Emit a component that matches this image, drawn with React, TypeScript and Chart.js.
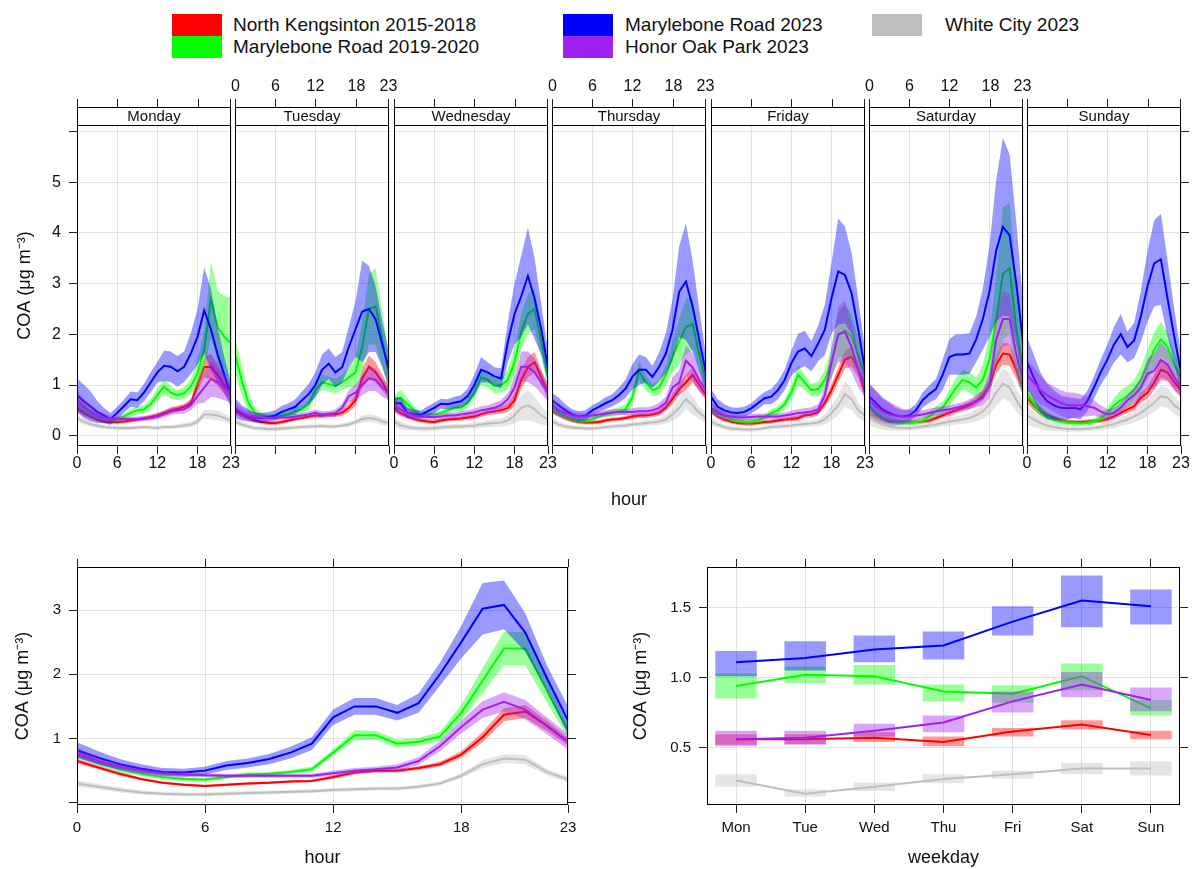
import React, { useEffect, useRef } from "react";
import { Chart, registerables } from "chart.js";

Chart.register(...registerables);

const FONT = '"Liberation Sans", Arial, Helvetica, sans-serif';
const TEXT = "#111111";
const GRID = "#e2e2e2";
const AXIS = "#222222";
const FRAME = "#000000";

// ---------- labels ----------
const seriesNames = [
  "North Kengsinton 2015-2018",
  "Marylebone Road 2019-2020",
  "Marylebone Road 2023",
  "Honor Oak Park 2023",
  "White City 2023",
];
const seriesColors = ["#FF0000", "#00FF00", "#0000FF", "#A020F0", "#BEBEBE"];
const bandColors = [
  "rgba(255,0,0,0.4)",
  "rgba(0,255,0,0.4)",
  "rgba(0,0,255,0.4)",
  "rgba(160,32,240,0.4)",
  "rgba(190,190,190,0.4)",
];
const dayNames = ["Monday", "Tuesday", "Wednesday", "Thursday", "Friday", "Saturday", "Sunday"];
const dayShort = ["Mon", "Tue", "Wed", "Thu", "Fri", "Sat", "Sun"];
const hours = [0, 1, 2, 3, 4, 5, 6, 7, 8, 9, 10, 11, 12, 13, 14, 15, 16, 17, 18, 19, 20, 21, 22, 23];
const hourTicks = [0, 6, 12, 18, 23];
const topYTicks = [0, 1, 2, 3, 4, 5, 6];
const hourYTicks = [0, 1, 2, 3];
const dayXTicks = [1, 2, 3, 4, 5, 6, 7];
const dayYTicks = [0.5, 1.0, 1.5];
const yTitle = "COA (\u03BCg m\u207B\u00B3)";

// ---------- top panel: hour of week (Mon..Sun, 24 h each) ----------
const nkWeekMean = [
  0.55,0.45,0.38,0.32,0.28,0.27,0.27,0.28,0.30,0.32,0.34,0.37,0.40,0.45,0.50,0.53,0.57,0.64,1.00,1.35,1.36,1.20,1.00,0.80,
  0.50,0.42,0.35,0.30,0.27,0.25,0.25,0.27,0.30,0.33,0.35,0.38,0.40,0.40,0.42,0.42,0.45,0.55,0.70,1.13,1.36,1.25,1.05,0.82,
  0.55,0.45,0.38,0.33,0.30,0.28,0.27,0.30,0.32,0.33,0.34,0.36,0.38,0.42,0.46,0.48,0.50,0.55,0.70,1.10,1.35,1.45,1.15,0.85,
  0.50,0.42,0.35,0.30,0.27,0.26,0.26,0.27,0.30,0.32,0.33,0.35,0.38,0.40,0.40,0.42,0.45,0.55,0.72,0.92,1.05,1.20,1.00,0.80,
  0.50,0.38,0.32,0.28,0.25,0.24,0.24,0.25,0.27,0.28,0.30,0.32,0.33,0.35,0.40,0.42,0.47,0.64,0.90,1.20,1.50,1.56,1.30,0.85,
  0.45,0.38,0.32,0.28,0.27,0.26,0.26,0.27,0.28,0.30,0.35,0.40,0.45,0.50,0.55,0.60,0.68,0.80,1.00,1.40,1.62,1.60,1.30,0.95,
  0.75,0.60,0.48,0.40,0.35,0.30,0.28,0.27,0.27,0.28,0.29,0.30,0.33,0.38,0.45,0.52,0.58,0.75,0.85,1.05,1.30,1.25,1.05,0.90,
];
const nkWeekCI = [
  0.07,0.06,0.05,0.04,0.04,0.04,0.04,0.04,0.04,0.04,0.04,0.05,0.05,0.05,0.06,0.06,0.06,0.08,0.12,0.20,0.25,0.22,0.18,0.14,
  0.07,0.06,0.05,0.04,0.04,0.04,0.04,0.04,0.04,0.04,0.04,0.05,0.05,0.05,0.05,0.05,0.06,0.08,0.12,0.18,0.22,0.20,0.16,0.12,
  0.07,0.06,0.05,0.04,0.04,0.04,0.04,0.04,0.04,0.04,0.04,0.05,0.05,0.05,0.05,0.06,0.06,0.08,0.12,0.18,0.20,0.20,0.15,0.12,
  0.06,0.05,0.05,0.04,0.04,0.04,0.04,0.04,0.04,0.04,0.04,0.04,0.05,0.05,0.05,0.05,0.06,0.07,0.10,0.12,0.15,0.15,0.12,0.10,
  0.06,0.05,0.05,0.04,0.04,0.04,0.04,0.04,0.04,0.04,0.04,0.04,0.05,0.05,0.05,0.06,0.06,0.08,0.12,0.15,0.18,0.20,0.15,0.12,
  0.07,0.06,0.05,0.04,0.04,0.04,0.04,0.04,0.04,0.05,0.05,0.05,0.06,0.06,0.07,0.08,0.08,0.10,0.12,0.18,0.22,0.22,0.18,0.14,
  0.12,0.10,0.08,0.06,0.05,0.05,0.04,0.04,0.04,0.04,0.04,0.05,0.05,0.06,0.06,0.07,0.08,0.10,0.12,0.15,0.20,0.18,0.15,0.12,
];
const mr1920WeekMean = [
  0.65,0.55,0.45,0.38,0.33,0.32,0.33,0.38,0.45,0.50,0.52,0.62,0.80,0.97,0.85,0.80,0.84,0.97,1.23,1.69,2.69,2.15,1.95,1.82,
  1.60,1.10,0.65,0.45,0.40,0.38,0.38,0.40,0.42,0.48,0.52,0.62,0.90,1.05,1.02,0.98,1.05,1.15,1.25,1.75,2.50,2.55,1.90,1.20,
  0.70,0.75,0.62,0.50,0.42,0.42,0.42,0.45,0.50,0.55,0.55,0.65,0.85,1.15,1.10,0.98,1.00,1.10,1.45,2.05,2.40,2.50,1.85,1.15,
  0.55,0.45,0.38,0.33,0.30,0.30,0.32,0.38,0.42,0.45,0.48,0.52,0.75,1.28,1.05,0.90,0.95,1.20,1.55,1.85,2.15,2.20,1.60,1.05,
  0.55,0.45,0.38,0.33,0.30,0.28,0.28,0.30,0.36,0.45,0.50,0.62,0.85,1.20,1.05,0.90,0.92,1.10,1.45,1.98,2.08,1.95,1.55,1.20,
  0.60,0.45,0.35,0.30,0.27,0.25,0.25,0.27,0.30,0.38,0.48,0.55,0.75,0.95,1.10,1.05,0.95,1.10,1.50,2.30,3.20,3.30,2.10,1.30,
  0.85,0.65,0.48,0.38,0.32,0.28,0.26,0.25,0.24,0.25,0.28,0.35,0.45,0.60,0.70,0.78,0.90,1.10,1.40,1.70,1.90,1.75,1.40,1.15,
];
const mr1920WeekCI = [
  0.12,0.10,0.08,0.06,0.05,0.05,0.05,0.06,0.07,0.08,0.08,0.10,0.12,0.15,0.12,0.10,0.12,0.15,0.25,0.40,0.75,0.70,0.80,0.90,
  0.35,0.30,0.20,0.10,0.06,0.05,0.05,0.05,0.06,0.07,0.08,0.10,0.12,0.15,0.15,0.15,0.15,0.20,0.30,0.50,0.70,0.75,0.55,0.35,
  0.10,0.15,0.12,0.08,0.06,0.05,0.05,0.05,0.06,0.07,0.08,0.10,0.12,0.15,0.15,0.15,0.15,0.20,0.30,0.35,0.40,0.40,0.30,0.20,
  0.10,0.08,0.06,0.05,0.05,0.05,0.05,0.05,0.06,0.07,0.08,0.10,0.15,0.20,0.15,0.12,0.15,0.20,0.30,0.45,0.55,0.50,0.35,0.20,
  0.10,0.08,0.06,0.05,0.05,0.05,0.05,0.05,0.06,0.07,0.08,0.10,0.15,0.20,0.15,0.12,0.15,0.20,0.30,0.45,0.50,0.45,0.35,0.25,
  0.20,0.15,0.10,0.08,0.06,0.05,0.05,0.05,0.06,0.08,0.10,0.12,0.15,0.20,0.20,0.20,0.20,0.30,0.50,0.90,1.30,1.30,0.90,0.50,
  0.15,0.12,0.10,0.08,0.06,0.05,0.05,0.05,0.05,0.05,0.06,0.08,0.10,0.15,0.20,0.20,0.20,0.25,0.30,0.35,0.35,0.30,0.25,0.20,
];
const mr23WeekMean = [
  0.80,0.68,0.58,0.47,0.40,0.33,0.45,0.58,0.72,0.70,0.85,1.05,1.25,1.38,1.36,1.27,1.36,1.62,1.95,2.47,2.10,1.60,1.20,0.80,
  0.55,0.45,0.40,0.36,0.35,0.37,0.40,0.47,0.52,0.57,0.70,0.82,1.00,1.30,1.42,1.25,1.35,1.75,2.10,2.45,2.50,2.30,1.80,1.30,
  0.64,0.64,0.45,0.43,0.41,0.48,0.55,0.63,0.62,0.65,0.68,0.78,1.00,1.30,1.25,1.17,1.13,1.85,2.40,2.75,3.15,2.70,2.10,1.35,
  0.70,0.60,0.50,0.42,0.38,0.40,0.50,0.57,0.64,0.70,0.80,0.93,1.16,1.30,1.30,1.16,1.36,1.62,2.09,2.84,3.04,2.55,1.89,1.23,
  0.77,0.57,0.50,0.46,0.45,0.47,0.54,0.64,0.74,0.77,0.90,1.10,1.43,1.66,1.72,1.57,1.82,2.09,2.71,3.24,3.17,2.81,2.09,1.30,
  0.78,0.65,0.52,0.45,0.40,0.38,0.40,0.50,0.70,0.82,0.92,1.20,1.55,1.60,1.60,1.62,1.90,2.30,2.85,3.65,4.12,3.95,3.00,1.85,
  1.45,1.15,0.85,0.68,0.60,0.55,0.54,0.55,0.52,0.68,0.95,1.25,1.50,1.80,2.00,1.75,1.88,2.35,2.95,3.40,3.48,2.70,1.95,1.25,
];
const mr23WeekCI = [
  0.33,0.33,0.30,0.22,0.15,0.12,0.12,0.13,0.15,0.15,0.17,0.20,0.20,0.30,0.30,0.30,0.30,0.40,0.55,0.85,0.80,0.55,0.35,0.25,
  0.20,0.15,0.12,0.10,0.10,0.10,0.10,0.12,0.12,0.15,0.17,0.20,0.25,0.30,0.30,0.30,0.30,0.40,0.55,1.00,0.85,0.65,0.45,0.35,
  0.12,0.12,0.10,0.08,0.08,0.10,0.10,0.10,0.10,0.12,0.12,0.15,0.20,0.25,0.20,0.18,0.20,0.40,0.60,0.80,0.95,0.80,0.50,0.30,
  0.15,0.15,0.12,0.10,0.10,0.10,0.10,0.10,0.12,0.12,0.15,0.18,0.25,0.30,0.25,0.22,0.28,0.40,0.60,0.90,1.15,0.90,0.60,0.35,
  0.15,0.15,0.12,0.10,0.10,0.10,0.10,0.12,0.12,0.15,0.18,0.20,0.25,0.35,0.35,0.30,0.35,0.50,0.70,1.05,0.95,0.80,0.60,0.40,
  0.25,0.25,0.22,0.20,0.15,0.12,0.12,0.12,0.15,0.17,0.20,0.30,0.35,0.40,0.40,0.40,0.45,0.60,0.90,1.40,1.75,1.60,1.20,0.80,
  0.50,0.45,0.40,0.35,0.30,0.25,0.22,0.20,0.20,0.20,0.22,0.25,0.30,0.35,0.40,0.30,0.35,0.50,0.70,0.85,0.90,0.75,0.55,0.35,
];
const hopWeekMean = [
  0.70,0.58,0.48,0.40,0.36,0.34,0.33,0.33,0.33,0.33,0.34,0.35,0.38,0.42,0.48,0.50,0.52,0.60,0.78,0.95,1.12,1.05,0.95,0.85,
  0.55,0.45,0.40,0.38,0.36,0.35,0.35,0.36,0.36,0.38,0.40,0.42,0.45,0.42,0.42,0.45,0.55,0.78,0.85,1.00,1.13,1.10,0.95,0.84,
  0.60,0.52,0.45,0.40,0.38,0.37,0.37,0.38,0.40,0.40,0.42,0.44,0.46,0.50,0.52,0.55,0.60,0.72,0.95,1.36,1.36,1.25,1.05,0.85,
  0.60,0.50,0.45,0.40,0.38,0.38,0.40,0.42,0.44,0.46,0.47,0.47,0.47,0.48,0.48,0.50,0.55,0.65,0.95,1.05,1.48,1.35,1.10,0.90,
  0.55,0.45,0.40,0.38,0.36,0.36,0.37,0.38,0.38,0.38,0.38,0.40,0.42,0.45,0.46,0.48,0.52,0.80,1.45,2.00,2.05,1.75,1.30,1.00,
  0.70,0.58,0.48,0.42,0.40,0.38,0.38,0.40,0.42,0.45,0.48,0.50,0.52,0.55,0.58,0.62,0.68,0.75,1.00,1.90,2.30,2.30,1.60,1.10,
  1.20,1.05,0.90,0.80,0.72,0.65,0.60,0.60,0.60,0.58,0.55,0.48,0.42,0.45,0.55,0.70,0.80,0.95,1.22,1.28,1.50,1.40,1.15,0.95,
];
const hopWeekCI = [
  0.20,0.15,0.12,0.10,0.08,0.06,0.05,0.05,0.05,0.05,0.05,0.05,0.06,0.06,0.07,0.07,0.08,0.10,0.15,0.30,0.35,0.30,0.25,0.20,
  0.12,0.10,0.08,0.07,0.06,0.05,0.05,0.05,0.05,0.05,0.05,0.06,0.06,0.06,0.06,0.07,0.08,0.12,0.15,0.20,0.25,0.22,0.18,0.15,
  0.15,0.12,0.10,0.08,0.07,0.06,0.06,0.06,0.06,0.06,0.06,0.06,0.07,0.08,0.08,0.10,0.10,0.12,0.20,0.30,0.30,0.28,0.22,0.18,
  0.15,0.12,0.10,0.08,0.07,0.06,0.06,0.06,0.06,0.06,0.06,0.06,0.07,0.08,0.08,0.08,0.10,0.12,0.20,0.25,0.30,0.28,0.22,0.18,
  0.12,0.10,0.08,0.07,0.06,0.06,0.06,0.06,0.06,0.06,0.06,0.06,0.07,0.07,0.08,0.08,0.10,0.15,0.30,0.55,0.60,0.50,0.35,0.25,
  0.30,0.30,0.28,0.25,0.20,0.15,0.12,0.10,0.08,0.08,0.08,0.08,0.08,0.08,0.08,0.10,0.12,0.15,0.25,0.45,0.55,0.50,0.40,0.30,
  0.30,0.30,0.28,0.25,0.25,0.25,0.25,0.25,0.22,0.20,0.15,0.12,0.10,0.10,0.10,0.12,0.15,0.20,0.30,0.35,0.35,0.30,0.25,0.20,
];
const wcWeekMean = [
  0.35,0.28,0.23,0.20,0.17,0.16,0.15,0.15,0.15,0.16,0.17,0.16,0.15,0.17,0.17,0.18,0.20,0.22,0.28,0.42,0.42,0.40,0.35,0.30,
  0.28,0.22,0.18,0.15,0.14,0.13,0.13,0.14,0.15,0.16,0.17,0.18,0.18,0.19,0.18,0.18,0.20,0.22,0.27,0.33,0.35,0.33,0.28,0.25,
  0.28,0.20,0.17,0.15,0.14,0.14,0.15,0.16,0.17,0.18,0.18,0.19,0.20,0.22,0.24,0.25,0.26,0.30,0.40,0.55,0.60,0.52,0.40,0.32,
  0.28,0.22,0.18,0.16,0.15,0.14,0.14,0.15,0.17,0.18,0.19,0.20,0.22,0.23,0.25,0.26,0.28,0.32,0.42,0.55,0.72,0.60,0.45,0.35,
  0.28,0.22,0.17,0.14,0.13,0.12,0.12,0.13,0.15,0.17,0.18,0.19,0.20,0.22,0.23,0.24,0.26,0.32,0.45,0.60,0.82,0.72,0.50,0.40,
  0.35,0.28,0.22,0.18,0.16,0.15,0.15,0.16,0.18,0.20,0.22,0.25,0.28,0.30,0.32,0.35,0.40,0.48,0.62,0.85,1.03,0.95,0.70,0.50,
  0.40,0.32,0.25,0.20,0.17,0.15,0.13,0.13,0.13,0.14,0.15,0.17,0.20,0.23,0.28,0.32,0.38,0.45,0.55,0.65,0.78,0.75,0.60,0.50,
];
const wcWeekCI = [
  0.08,0.06,0.05,0.05,0.04,0.04,0.04,0.04,0.04,0.04,0.04,0.04,0.04,0.04,0.04,0.04,0.05,0.05,0.06,0.08,0.10,0.10,0.08,0.08,
  0.07,0.05,0.05,0.04,0.04,0.04,0.04,0.04,0.04,0.04,0.04,0.04,0.04,0.04,0.04,0.04,0.04,0.05,0.05,0.07,0.08,0.08,0.07,0.06,
  0.10,0.08,0.06,0.05,0.05,0.05,0.05,0.05,0.05,0.05,0.05,0.05,0.06,0.06,0.07,0.08,0.08,0.10,0.15,0.25,0.30,0.25,0.18,0.12,
  0.08,0.06,0.05,0.05,0.04,0.04,0.04,0.04,0.04,0.04,0.05,0.05,0.05,0.05,0.06,0.06,0.07,0.08,0.12,0.18,0.20,0.18,0.12,0.10,
  0.08,0.06,0.05,0.05,0.04,0.04,0.04,0.04,0.04,0.04,0.05,0.05,0.05,0.05,0.06,0.06,0.07,0.10,0.15,0.20,0.25,0.22,0.15,0.12,
  0.15,0.12,0.10,0.08,0.06,0.05,0.05,0.05,0.05,0.06,0.06,0.07,0.08,0.08,0.09,0.10,0.12,0.15,0.20,0.25,0.30,0.28,0.22,0.18,
  0.18,0.15,0.12,0.10,0.08,0.06,0.05,0.05,0.05,0.05,0.05,0.06,0.07,0.08,0.09,0.10,0.12,0.14,0.16,0.18,0.20,0.20,0.18,0.15,
];

// ---------- bottom-left: hour of day ----------
const nkHourMean = [0.65,0.55,0.45,0.37,0.31,0.28,0.26,0.28,0.30,0.31,0.33,0.34,0.40,0.47,0.50,0.50,0.54,0.60,0.75,1.02,1.37,1.42,1.20,0.95];
const nkHourCI = [0.04,0.03,0.03,0.02,0.02,0.02,0.02,0.02,0.02,0.02,0.02,0.02,0.03,0.03,0.03,0.03,0.03,0.04,0.05,0.08,0.10,0.10,0.08,0.06];
const mr1920HourMean = [0.75,0.62,0.52,0.45,0.40,0.37,0.36,0.40,0.44,0.45,0.48,0.52,0.78,1.05,1.05,0.92,0.95,1.03,1.40,1.90,2.40,2.40,1.75,1.12];
const mr1920HourCI = [0.05,0.04,0.04,0.03,0.03,0.03,0.03,0.03,0.03,0.03,0.03,0.04,0.05,0.08,0.07,0.06,0.06,0.07,0.12,0.20,0.26,0.26,0.18,0.10];
const mr23HourMean = [0.82,0.70,0.60,0.53,0.48,0.47,0.50,0.58,0.62,0.68,0.78,0.92,1.33,1.50,1.50,1.40,1.55,2.00,2.50,3.02,3.08,2.65,1.95,1.28];
const mr23HourCI = [0.12,0.10,0.08,0.07,0.06,0.06,0.06,0.07,0.07,0.08,0.09,0.10,0.12,0.13,0.13,0.12,0.15,0.18,0.25,0.40,0.38,0.30,0.20,0.22];
const hopHourMean = [0.78,0.65,0.56,0.50,0.46,0.44,0.43,0.42,0.42,0.42,0.42,0.42,0.46,0.50,0.52,0.55,0.65,0.88,1.18,1.45,1.57,1.45,1.20,0.95];
const hopHourCI = [0.08,0.06,0.05,0.04,0.04,0.04,0.03,0.03,0.03,0.03,0.03,0.03,0.04,0.04,0.04,0.05,0.06,0.08,0.10,0.13,0.15,0.15,0.13,0.12];
const wcHourMean = [0.30,0.25,0.20,0.16,0.14,0.13,0.13,0.14,0.15,0.16,0.17,0.18,0.20,0.21,0.22,0.22,0.25,0.30,0.42,0.60,0.69,0.67,0.48,0.36];
const wcHourCI = [0.05,0.04,0.04,0.03,0.03,0.03,0.03,0.03,0.03,0.03,0.03,0.03,0.03,0.03,0.03,0.03,0.03,0.03,0.04,0.06,0.07,0.07,0.05,0.05];

// ---------- bottom-right: weekday ----------
const nkDayMean = [0.56, 0.56, 0.57, 0.54, 0.615, 0.665, 0.59];
const nkDayLow = [0.52, 0.525, 0.54, 0.51, 0.58, 0.63, 0.56];
const nkDayHigh = [0.595, 0.595, 0.61, 0.58, 0.64, 0.695, 0.62];
const mr1920DayMean = [0.94, 1.02, 1.01, 0.90, 0.885, 1.01, 0.78];
const mr1920DayLow = [0.85, 0.96, 0.95, 0.83, 0.82, 0.91, 0.73];
const mr1920DayHigh = [1.03, 1.08, 1.09, 0.95, 0.945, 1.10, 0.84];
const mr23DayMean = [1.11, 1.14, 1.20, 1.23, 1.40, 1.55, 1.51];
const mr23DayLow = [1.01, 1.05, 1.11, 1.13, 1.30, 1.36, 1.38];
const mr23DayHigh = [1.19, 1.26, 1.30, 1.33, 1.51, 1.73, 1.63];
const hopDayMean = [0.56, 0.57, 0.62, 0.68, 0.83, 0.95, 0.84];
const hopDayLow = [0.51, 0.52, 0.58, 0.61, 0.75, 0.86, 0.76];
const hopDayHigh = [0.62, 0.62, 0.67, 0.73, 0.90, 1.04, 0.93];
const wcDayMean = [0.265, 0.17, 0.22, 0.275, 0.31, 0.35, 0.35];
const wcDayLow = [0.22, 0.15, 0.19, 0.245, 0.28, 0.31, 0.30];
const wcDayHigh = [0.31, 0.20, 0.25, 0.31, 0.335, 0.39, 0.40];

const weekMeans = [nkWeekMean, mr1920WeekMean, mr23WeekMean, hopWeekMean, wcWeekMean];
const weekCIs = [nkWeekCI, mr1920WeekCI, mr23WeekCI, hopWeekCI, wcWeekCI];
const hourMeans = [nkHourMean, mr1920HourMean, mr23HourMean, hopHourMean, wcHourMean];
const hourCIs = [nkHourCI, mr1920HourCI, mr23HourCI, hopHourCI, wcHourCI];
const dayMeans = [nkDayMean, mr1920DayMean, mr23DayMean, hopDayMean, wcDayMean];
const dayLows = [nkDayLow, mr1920DayLow, mr23DayLow, hopDayLow, wcDayLow];
const dayHighs = [nkDayHigh, mr1920DayHigh, mr23DayHigh, hopDayHigh, wcDayHigh];

// ---------- layout ----------
const PAGE_W = 1192;
const PAGE_H = 869;
const TOP_LEFT0 = 77;
const TOP_PITCH = 158.4;
const TOP_WIDTH = 154;
const TOP_CANVAS_TOP = 60;
const TOP_CANVAS_BOTTOM = 520;
const TOP_AREA_TOP = 125;
const TOP_AREA_BOTTOM = 446;
const STRIP_H = 18;
const TOP_YMIN = -0.203;
const TOP_YMAX = 6.128;
const TICK_LEN = 8;

const font = (size: number) => ({ family: FONT, size });

function bandAndLineDatasets(xs: number[], means: number[][], lows: number[][], highs: number[][]) {
  const ds: any[] = [];
  means.forEach((m, s) => {
    const upIdx = ds.length;
    ds.push({
      type: "line",
      data: xs.map((x, i) => ({ x, y: highs[s][i] })),
      borderWidth: 0,
      pointRadius: 0,
      fill: false,
      tension: 0,
      order: 100 - s * 10,
    });
    ds.push({
      type: "line",
      data: xs.map((x, i) => ({ x, y: lows[s][i] })),
      borderWidth: 0,
      pointRadius: 0,
      fill: upIdx,
      backgroundColor: bandColors[s],
      tension: 0,
      order: 100 - s * 10,
    });
    ds.push({
      type: "line",
      data: xs.map((x, i) => ({ x, y: m[i] })),
      borderColor: seriesColors[s],
      borderWidth: 2,
      pointRadius: 0,
      fill: false,
      tension: 0,
      order: 95 - s * 10,
    });
  });
  return ds;
}

const setTicks = (vals: number[]) => (ax: any) => {
  ax.ticks = vals.map((v) => ({ value: v }));
};

const stripPlugin = {
  id: "strip",
  afterDraw(chart: any, _args: any, opts: any) {
    const { ctx, chartArea: a } = chart;
    const xs = chart.scales.x;
    const sTop = a.top - STRIP_H;
    ctx.save();
    ctx.fillStyle = "#ffffff";
    ctx.fillRect(a.left, sTop, a.right - a.left, STRIP_H);
    ctx.strokeStyle = FRAME;
    ctx.lineWidth = 1;
    ctx.strokeRect(a.left + 0.5, sTop + 0.5, a.right - a.left - 1, STRIP_H);
    ctx.strokeRect(a.left + 0.5, a.top + 0.5, a.right - a.left - 1, a.bottom - a.top - 1);
    ctx.fillStyle = TEXT;
    ctx.font = `15px ${FONT}`;
    ctx.textAlign = "center";
    ctx.textBaseline = "middle";
    ctx.fillText(opts.label, (a.left + a.right) / 2, sTop + STRIP_H / 2 + 1);
    ctx.strokeStyle = AXIS;
    ctx.beginPath();
    const pxs: number[] = [];
    for (const v of hourTicks) {
      const px = Math.min(Math.round(xs.getPixelForValue(v)) + 0.5, a.right - 0.5);
      pxs.push(px);
      ctx.moveTo(px, sTop);
      ctx.lineTo(px, sTop - TICK_LEN);
    }
    ctx.stroke();
    if (opts.topLabels) {
      ctx.font = `16px ${FONT}`;
      ctx.fillStyle = TEXT;
      hourTicks.forEach((v, i) => ctx.fillText(String(v), pxs[i], sTop - TICK_LEN - 12));
    }
    ctx.restore();
  },
};

const framePlugin = {
  id: "frame",
  afterDraw(chart: any) {
    const { ctx, chartArea: a } = chart;
    ctx.save();
    ctx.strokeStyle = FRAME;
    ctx.lineWidth = 1;
    ctx.strokeRect(a.left + 0.5, a.top + 0.5, a.right - a.left - 1, a.bottom - a.top - 1);
    ctx.restore();
  },
};

const common = {
  animation: false,
  responsive: false,
  maintainAspectRatio: false,
  devicePixelRatio: 1,
  events: [],
};

function buildTopDay(d: number) {
  const areaLeft = Math.round(TOP_LEFT0 + d * TOP_PITCH);
  const areaRight = areaLeft + TOP_WIDTH;
  const isMon = d === 0;
  const isSun = d === 6;
  const leftW = isMon ? areaLeft : 20;
  const rightW = isSun ? PAGE_W - areaRight : 20;
  const x = areaLeft - leftW;
  const w = areaRight + rightW - x;
  const y = TOP_CANVAS_TOP;
  const h = TOP_CANVAS_BOTTOM - TOP_CANVAS_TOP;
  const s0 = d * 24;
  const m = weekMeans.map((a) => a.slice(s0, s0 + 24));
  const c = weekCIs.map((a) => a.slice(s0, s0 + 24));
  const hi = m.map((arr, s) => arr.map((v, i) => v + c[s][i]));
  const lo = m.map((arr, s) => arr.map((v, i) => Math.max(0, v - c[s][i])));
  const config = {
    type: "line",
    data: { datasets: bandAndLineDatasets(hours, m, lo, hi) },
    options: {
      ...common,
      layout: {
        autoPadding: false,
        padding: { top: TOP_AREA_TOP - y, right: 0, left: 0, bottom: 0 },
      },
      plugins: {
        legend: { display: false },
        tooltip: { enabled: false },
        strip: { label: dayNames[d], topLabels: d % 2 === 1 },
      },
      scales: {
        x: {
          type: "linear",
          min: 0,
          max: 23,
          position: "bottom",
          afterBuildTicks: setTicks(hourTicks),
          afterFit: (ax: any) => {
            ax.height = TOP_CANVAS_BOTTOM - TOP_AREA_BOTTOM;
          },
          grid: { color: GRID, tickColor: AXIS, tickLength: TICK_LEN, drawTicks: true },
          border: { display: false },
          ticks: {
            display: d % 2 === 0,
            font: font(16),
            color: TEXT,
            padding: 0,
            maxRotation: 0,
            autoSkip: false,
            callback: (v: any) => String(v),
          },
          title: {
            display: d === 3,
            text: "hour",
            font: font(18),
            color: TEXT,
            padding: { top: 0, bottom: 9 },
          },
        },
        y: {
          type: "linear",
          min: TOP_YMIN,
          max: TOP_YMAX,
          position: "left",
          afterBuildTicks: setTicks(topYTicks),
          afterFit: (ax: any) => {
            ax.width = leftW;
          },
          grid: { color: GRID, tickColor: AXIS, tickLength: TICK_LEN, drawTicks: isMon },
          border: { display: false },
          ticks: {
            display: isMon,
            font: font(16),
            color: TEXT,
            padding: 8,
            callback: (v: any) => (v === 6 ? "" : String(v)),
          },
          title: {
            display: isMon,
            text: yTitle,
            font: font(18),
            color: TEXT,
            padding: { top: 14, bottom: 0 },
          },
        },
        y2: {
          type: "linear",
          min: TOP_YMIN,
          max: TOP_YMAX,
          position: "right",
          display: true,
          afterBuildTicks: setTicks(topYTicks),
          afterFit: (ax: any) => {
            ax.width = rightW;
          },
          grid: { drawOnChartArea: false, drawTicks: isSun, tickColor: AXIS, tickLength: TICK_LEN },
          border: { display: false },
          ticks: { display: false },
        },
      },
    },
    plugins: [stripPlugin],
  };
  return { x, y, w, h, config };
}

function buildHourPanel() {
  const x = 0, y = 540, w = 600, h = PAGE_H - 540;
  const areaLeft = 77, areaRight = 568, areaTop = 567, areaBottom = 805;
  const hi = hourMeans.map((arr, s) => arr.map((v, i) => v + hourCIs[s][i]));
  const lo = hourMeans.map((arr, s) => arr.map((v, i) => v - hourCIs[s][i]));
  const yMin = -0.035, yMax = 3.67;
  const config = {
    type: "line",
    data: { datasets: bandAndLineDatasets(hours, hourMeans, lo, hi) },
    options: {
      ...common,
      layout: { autoPadding: false, padding: 0 },
      plugins: { legend: { display: false }, tooltip: { enabled: false } },
      scales: {
        x: {
          type: "linear", min: 0, max: 23, position: "bottom",
          afterBuildTicks: setTicks(hourTicks),
          afterFit: (ax: any) => { ax.height = y + h - areaBottom; },
          grid: { color: GRID, tickColor: AXIS, tickLength: TICK_LEN },
          border: { display: false },
          ticks: { font: font(15), color: TEXT, padding: 6, maxRotation: 0, autoSkip: false, callback: (v: any) => String(v) },
          title: { display: true, text: "hour", font: font(18), color: TEXT, padding: { top: 0, bottom: 0 } },
        },
        x2: {
          type: "linear", min: 0, max: 23, position: "top",
          afterBuildTicks: setTicks(hourTicks),
          afterFit: (ax: any) => { ax.height = areaTop - y; },
          grid: { drawOnChartArea: false, tickColor: AXIS, tickLength: TICK_LEN },
          border: { display: false },
          ticks: { display: false },
        },
        y: {
          type: "linear", min: yMin, max: yMax, position: "left",
          afterBuildTicks: setTicks(hourYTicks),
          afterFit: (ax: any) => { ax.width = areaLeft - x; },
          grid: { color: GRID, tickColor: AXIS, tickLength: TICK_LEN },
          border: { display: false },
          ticks: { font: font(15), color: TEXT, padding: 8, callback: (v: any) => (v === 0 ? "" : String(v)) },
          title: { display: true, text: yTitle, font: font(18), color: TEXT, padding: { top: 12, bottom: 0 } },
        },
        y2: {
          type: "linear", min: yMin, max: yMax, position: "right",
          afterBuildTicks: setTicks(hourYTicks),
          afterFit: (ax: any) => { ax.width = x + w - areaRight; },
          grid: { drawOnChartArea: false, tickColor: AXIS, tickLength: TICK_LEN },
          border: { display: false },
          ticks: { display: false },
        },
      },
    },
    plugins: [framePlugin],
  };
  return { x, y, w, h, config };
}

function buildDayPanel() {
  const x = 600, y = 540, w = PAGE_W - 600, h = PAGE_H - 540;
  const areaLeft = 707, areaRight = 1180, areaTop = 567, areaBottom = 805;
  const yMin = 0.09, yMax = 1.79;
  const datasets: any[] = [];
  dayMeans.forEach((m, s) => {
    datasets.push({
      type: "bar",
      data: dayXTicks.map((dx, i) => ({ x: dx, y: [dayLows[s][i], dayHighs[s][i]] })),
      backgroundColor: bandColors[s],
      borderWidth: 0,
      grouped: false,
      barPercentage: 0.6,
      categoryPercentage: 1,
      order: 100 - s * 10,
    });
    datasets.push({
      type: "line",
      data: dayXTicks.map((dx, i) => ({ x: dx, y: m[i] })),
      borderColor: seriesColors[s],
      borderWidth: 2,
      pointRadius: 0,
      fill: false,
      tension: 0,
      order: 95 - s * 10,
    });
  });
  const config = {
    type: "bar",
    data: { datasets },
    options: {
      ...common,
      layout: { autoPadding: false, padding: 0 },
      plugins: { legend: { display: false }, tooltip: { enabled: false } },
      scales: {
        x: {
          type: "linear", min: 0.58, max: 7.42, position: "bottom", offset: false,
          afterBuildTicks: setTicks(dayXTicks),
          afterFit: (ax: any) => { ax.height = y + h - areaBottom; },
          grid: { color: GRID, tickColor: AXIS, tickLength: TICK_LEN, offset: false },
          border: { display: false },
          ticks: { font: font(15), color: TEXT, padding: 6, maxRotation: 0, autoSkip: false, callback: (v: any) => dayShort[v - 1] },
          title: { display: true, text: "weekday", font: font(18), color: TEXT, padding: { top: 0, bottom: 0 } },
        },
        x2: {
          type: "linear", min: 0.58, max: 7.42, position: "top", offset: false,
          afterBuildTicks: setTicks(dayXTicks),
          afterFit: (ax: any) => { ax.height = areaTop - y; },
          grid: { drawOnChartArea: false, tickColor: AXIS, tickLength: TICK_LEN, offset: false },
          border: { display: false },
          ticks: { display: false },
        },
        y: {
          type: "linear", min: yMin, max: yMax, position: "left",
          afterBuildTicks: setTicks(dayYTicks),
          afterFit: (ax: any) => { ax.width = areaLeft - x; },
          grid: { color: GRID, tickColor: AXIS, tickLength: TICK_LEN },
          border: { display: false },
          ticks: { font: font(15), color: TEXT, padding: 8, callback: (v: any) => Number(v).toFixed(1) },
          title: { display: true, text: yTitle, font: font(18), color: TEXT, padding: { top: 30, bottom: 0 } },
        },
        y2: {
          type: "linear", min: yMin, max: yMax, position: "right",
          afterBuildTicks: setTicks(dayYTicks),
          afterFit: (ax: any) => { ax.width = x + w - areaRight; },
          grid: { drawOnChartArea: false, tickColor: AXIS, tickLength: TICK_LEN },
          border: { display: false },
          ticks: { display: false },
        },
      },
    },
    plugins: [framePlugin],
  };
  return { x, y, w, h, config };
}

function ChartCanvas({ build }: { build: () => any }) {
  const ref = useRef<HTMLCanvasElement | null>(null);
  const spec = build();
  useEffect(() => {
    const s = build();
    const chart = new Chart(ref.current as HTMLCanvasElement, s.config as any);
    return () => chart.destroy();
  }, []);
  return (
    <canvas
      ref={ref}
      width={spec.w}
      height={spec.h}
      style={{ position: "absolute", left: spec.x, top: spec.y, width: spec.w, height: spec.h }}
    />
  );
}

function Legend() {
  const swatchX = [172, 563, 872];
  const textX = [233, 625, 945];
  return (
    <>
      {seriesNames.map((name, i) => {
        const col = Math.floor(i / 2);
        const row = i % 2;
        const top = 14 + row * 22;
        return (
          <React.Fragment key={name}>
            <div
              style={{
                position: "absolute",
                left: swatchX[col],
                top,
                width: 50,
                height: 22,
                background: seriesColors[i],
              }}
            />
            <div
              style={{
                position: "absolute",
                left: textX[col],
                top,
                height: 22,
                lineHeight: "22px",
                fontSize: 19,
                fontFamily: FONT,
                color: TEXT,
                whiteSpace: "nowrap",
              }}
            >
              {name}
            </div>
          </React.Fragment>
        );
      })}
    </>
  );
}

export default function App() {
  return (
    <div
      style={{
        position: "absolute",
        left: 0,
        top: 0,
        width: PAGE_W,
        height: PAGE_H,
        background: "#ffffff",
        overflow: "hidden",
      }}
    >
      <Legend />
      {dayNames.map((_, d) => (
        <ChartCanvas key={d} build={() => buildTopDay(d)} />
      ))}
      <ChartCanvas build={buildHourPanel} />
      <ChartCanvas build={buildDayPanel} />
    </div>
  );
}
